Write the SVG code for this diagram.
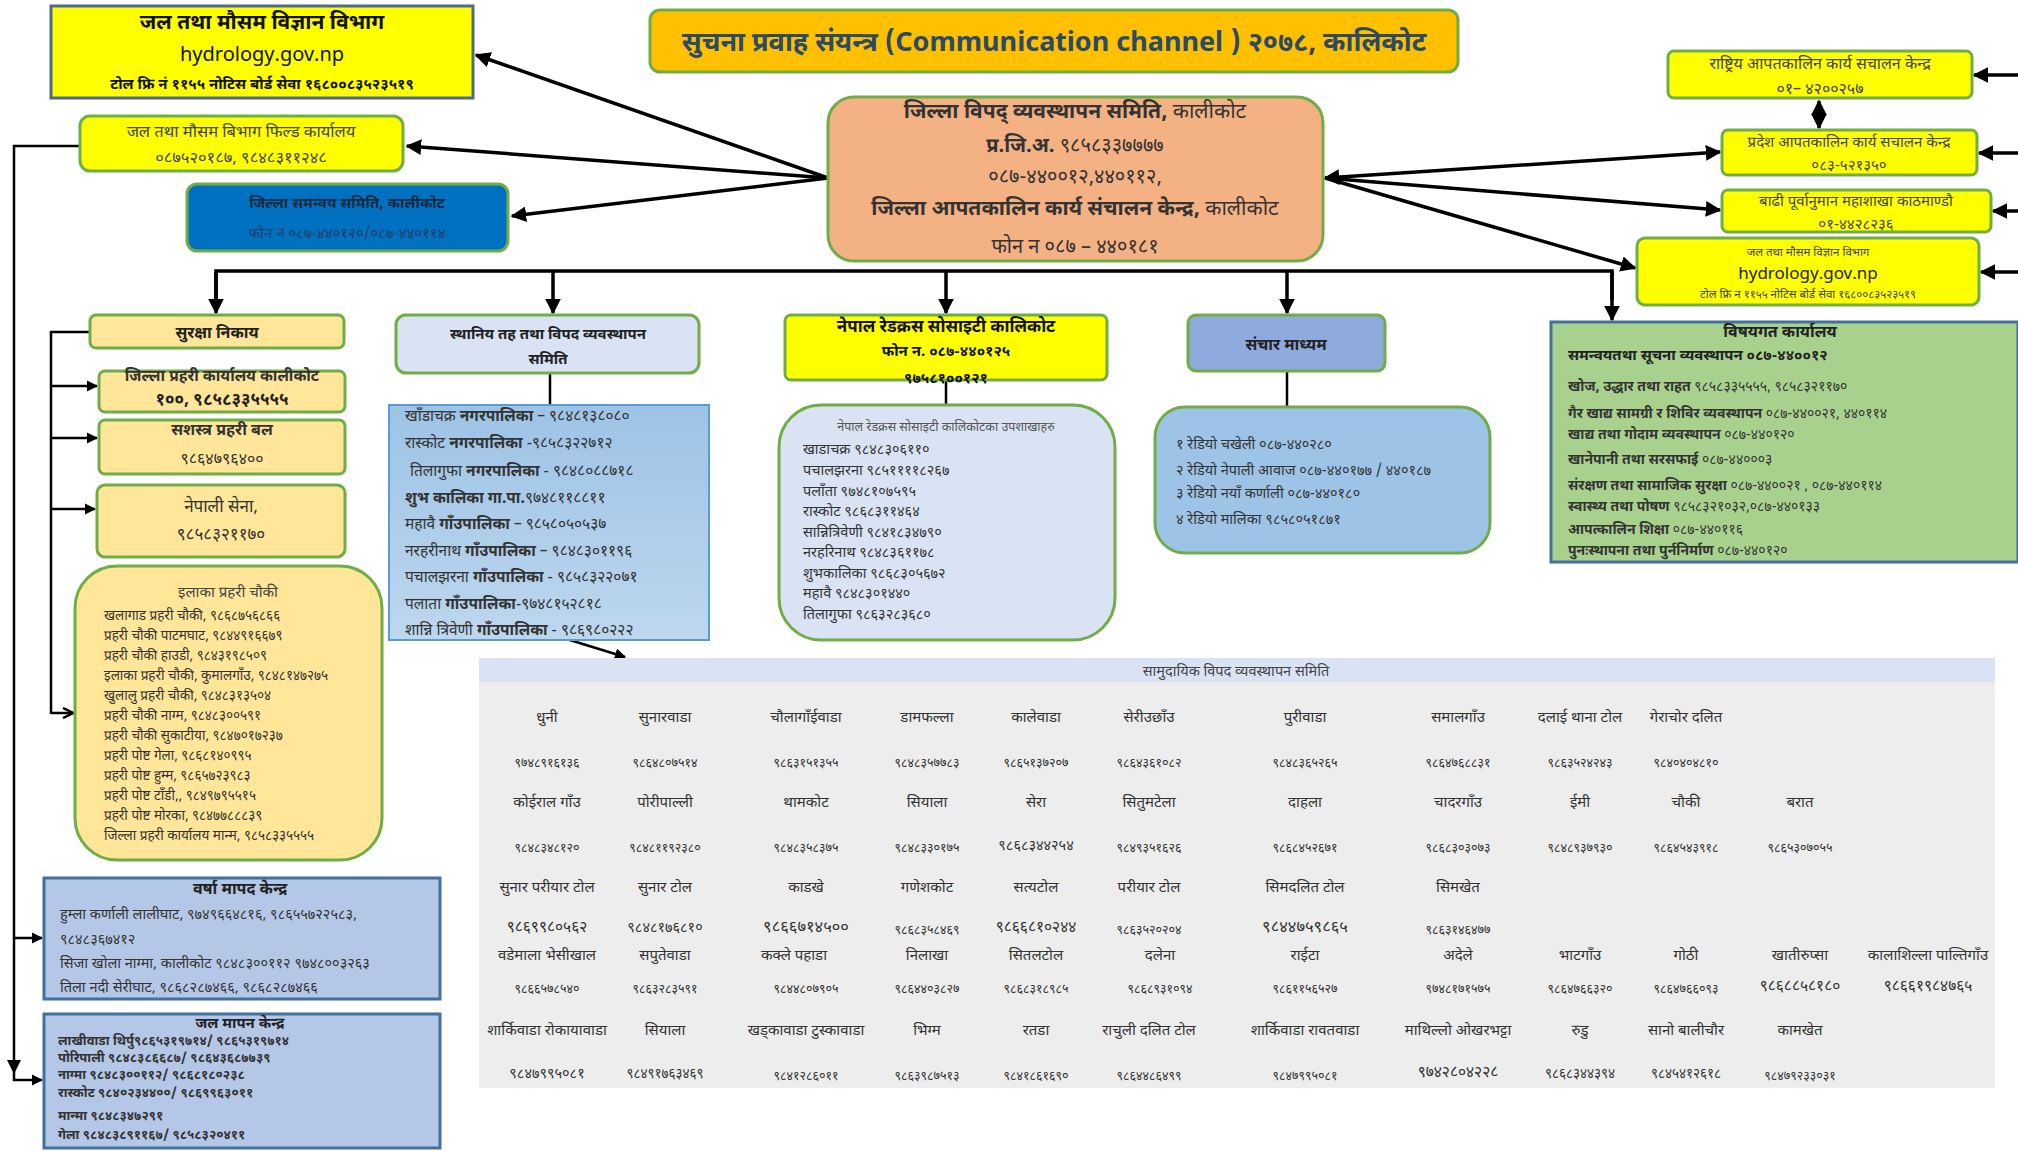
<svg xmlns="http://www.w3.org/2000/svg" width="2018" height="1151" viewBox="0 0 2018 1151">
<defs>
<marker id="ah" viewBox="0 0 10 10" refX="9" refY="5" markerWidth="4.5" markerHeight="4.5" orient="auto-start-reverse"><path d="M0,0 L10,5 L0,10 Z" fill="#000"/></marker>
<marker id="ao" viewBox="0 0 10 10" refX="9" refY="5" markerWidth="5" markerHeight="5" orient="auto"><path d="M1,1 L9,5 L1,9" fill="none" stroke="#000" stroke-width="2"/></marker>
<style>
text{font-family:"Noto Sans Devanagari","Noto Sans","Liberation Sans",sans-serif;fill:#333}
.c{text-anchor:middle}
.b{font-weight:bold}
.ln{fill:none;stroke:#000;stroke-width:3.5}
.ln2{fill:none;stroke:#000;stroke-width:2.5}
.yg{fill:#FFFF00;stroke:#70AD47;stroke-width:3}
.tan{fill:#FFE699;stroke:#70AD47;stroke-width:3}
.t12{font-size:13.5px}
.t13{font-size:14px}
.t14{font-size:14.5px}
.t15{font-size:15.5px}
.t16{font-size:16px}
.num{font-size:12.5px;fill:#555}
.nm{font-size:15px;fill:#444}
</style>
<linearGradient id="gl" x1="0" y1="0" x2="0" y2="1"><stop offset="0" stop-color="#9DC3E6"/><stop offset="1" stop-color="#BDD7EE"/></linearGradient>
</defs>

<g id="connectors">
<line class="ln" x1="828" y1="178" x2="476" y2="55" marker-end="url(#ah)"/>
<line class="ln" x1="828" y1="178" x2="407" y2="146" marker-end="url(#ah)"/>
<line class="ln" x1="828" y1="178" x2="512" y2="216" marker-end="url(#ah)"/>
<line class="ln" x1="1325" y1="178" x2="1720" y2="152" marker-start="url(#ah)" marker-end="url(#ah)"/>
<line class="ln" x1="1325" y1="178" x2="1720" y2="210" marker-end="url(#ah)"/>
<line class="ln" x1="1325" y1="178" x2="1635" y2="268" marker-end="url(#ah)"/>
<line class="ln" x1="2018" y1="75" x2="1974" y2="75" marker-end="url(#ah)"/>
<line class="ln" x1="2018" y1="153" x2="1979" y2="153" marker-end="url(#ah)"/>
<line class="ln" x1="2018" y1="211" x2="1993" y2="211" marker-end="url(#ah)"/>
<line class="ln" x1="2018" y1="272" x2="1981" y2="272" marker-end="url(#ah)"/>
<line class="ln" x1="1819" y1="101" x2="1819" y2="128" marker-start="url(#ah)" marker-end="url(#ah)"/>
<polyline class="ln" points="216,300 216,271 1612,271 1612,300"/>
<line class="ln" x1="216" y1="272" x2="216" y2="313" marker-end="url(#ah)"/>
<line class="ln" x1="553" y1="272" x2="553" y2="313" marker-end="url(#ah)"/>
<line class="ln" x1="946" y1="272" x2="946" y2="313" marker-end="url(#ah)"/>
<line class="ln" x1="1287" y1="272" x2="1287" y2="313" marker-end="url(#ah)"/>
<line class="ln" x1="1612" y1="272" x2="1612" y2="320" marker-end="url(#ah)"/>
<polyline class="ln2" points="90,332 51,332 51,714"/>
<line class="ln2" x1="51" y1="386" x2="97" y2="386" marker-end="url(#ah)"/>
<line class="ln2" x1="51" y1="438" x2="97" y2="438" marker-end="url(#ah)"/>
<line class="ln2" x1="51" y1="509" x2="95" y2="509" marker-end="url(#ah)"/>
<line class="ln2" x1="51" y1="713" x2="73" y2="713" marker-end="url(#ao)"/>
<polyline class="ln2" points="80,146 14,146 14,1080 42,1080" marker-end="url(#ah)"/>
<line class="ln2" x1="14" y1="938" x2="42" y2="938" marker-end="url(#ah)"/>
<path d="M7,1060 L21,1060 L14,1074 Z" fill="#000"/>
<line class="ln2" x1="550" y1="373" x2="550" y2="405"/>
<line class="ln2" x1="946" y1="380" x2="946" y2="405"/>
<line class="ln2" x1="1287" y1="371" x2="1287" y2="407"/>
<line class="ln2" x1="547" y1="633" x2="625" y2="657" marker-end="url(#ah)"/>
</g>

<g id="title">
<rect x="650" y="10" width="808" height="62" rx="10" fill="#FFC000" stroke="#70AD47" stroke-width="3"/>
<text x="1054" y="51" class="c b" style="font-size:27px;fill:#2A4A66">सुचना प्रवाह संयन्त्र (Communication channel ) २०७८, कालिकोट</text>
</g>

<g id="center">
<rect x="828" y="97" width="495" height="164" rx="26" fill="#F4B183" stroke="#70AD47" stroke-width="3"/>
<text x="1075" y="118" class="c" style="font-size:21px"><tspan class="b">जिल्ला विपद् व्यवस्थापन समिति,</tspan> कालीकोट</text>
<text x="1075" y="152" class="c" style="font-size:20px"><tspan class="b">प्र.जि.अ.</tspan> ९८५८३३७७७७</text>
<text x="1075" y="183" class="c" style="font-size:20px">०८७-४४००१२,४४०११२,</text>
<text x="1075" y="215" class="c" style="font-size:21px"><tspan class="b">जिल्ला आपतकालिन कार्य संचालन केन्द्र,</tspan> कालीकोट</text>
<text x="1075" y="253" class="c" style="font-size:20px">फोन न ०८७ – ४४०१८१</text>
</g>

<g id="dhm-left">
<rect x="51" y="6" width="422" height="92" fill="#FFFF00" stroke="#4F6B8A" stroke-width="3"/>
<text x="262" y="29" class="c b" style="font-size:21px;fill:#111">जल तथा मौसम विज्ञान विभाग</text>
<text x="262" y="61" class="c" style="font-size:20px;fill:#111">hydrology.gov.np</text>
<text x="262" y="89" class="c b" style="font-size:15px;fill:#111">टोल फ्रि नं ११५५ नोटिस बोर्ड सेवा १६८००८३५२३५१९</text>
</g>

<g id="field-office">
<rect x="80" y="116" width="323" height="55" rx="10" class="yg"/>
<text x="241" y="137" class="c" style="font-size:16.5px;fill:#444">जल तथा मौसम बिभाग फिल्ड कार्यालय</text>
<text x="241" y="163" class="c" style="font-size:16.5px;fill:#444">०८७५२०१८७, ९८४८३११२४८</text>
</g>

<g id="dcc">
<rect x="187" y="184" width="321" height="67" rx="10" fill="#0070C0" stroke="#70AD47" stroke-width="3"/>
<text x="347" y="208" class="c b" style="font-size:15px;fill:#1a2a40">जिल्ला समन्वय समिति, कालीकोट</text>
<text x="347" y="238" class="c" style="font-size:15px;fill:#1F3D63">फोन न  ०८७-४४०१२०/०८७-४४०११४</text>
</g>

<g id="neoc">
<rect x="1668" y="51" width="304" height="47" rx="6" class="yg"/>
<text x="1820" y="69" class="c" style="font-size:16px;fill:#444">राष्ट्रिय आपतकालिन कार्य सचालन केन्द्र</text>
<text x="1820" y="94" class="c" style="font-size:16px;fill:#444">०१– ४२००२५७</text>
</g>
<g id="peoc">
<rect x="1722" y="130" width="255" height="45" rx="6" class="yg"/>
<text x="1849" y="147" class="c" style="font-size:15px;fill:#444">प्रदेश आपतकालिन कार्य सचालन केन्द्र</text>
<text x="1849" y="170" class="c" style="font-size:15px;fill:#444">०८३-५२१३५०</text>
</g>
<g id="flood">
<rect x="1722" y="190" width="269" height="42" rx="6" class="yg"/>
<text x="1856" y="206" class="c" style="font-size:15px;fill:#444">बाढी पूर्वानुमान महाशाखा काठमाण्डौ</text>
<text x="1856" y="229" class="c" style="font-size:15px;fill:#444">०१-४४२८२३६</text>
</g>
<g id="dhm-right">
<rect x="1637" y="238" width="342" height="67" rx="8" class="yg"/>
<text x="1808" y="256" class="c" style="font-size:11.5px;fill:#444">जल तथा मौसम विज्ञान विभाग</text>
<text x="1808" y="279" class="c" style="font-size:17px;fill:#222">hydrology.gov.np</text>
<text x="1808" y="298" class="c" style="font-size:11.5px;fill:#444">टोल फ्रि न ११५५ नोटिस बोर्ड सेवा १६८००८३५२३५१९</text>
</g>

<g id="security">
<rect x="90" y="315" width="254" height="33" rx="6" class="tan"/>
<text x="217" y="338" class="c b t16" style="fill:#222">सुरक्षा निकाय</text>
</g>
<g id="police">
<rect x="99" y="371" width="246" height="41" rx="6" class="tan"/>
<text x="222" y="381" class="c b" style="font-size:15.5px;fill:#333">जिल्ला प्रहरी कार्यालय कालीकोट</text>
<text x="222" y="405" class="c b" style="font-size:17px;fill:#222">१००, ९८५८३३५५५५</text>
</g>
<g id="apf">
<rect x="99" y="420" width="246" height="54" rx="6" class="tan"/>
<text x="222" y="435" class="c b" style="font-size:16px;fill:#333">सशस्त्र प्रहरी बल</text>
<text x="222" y="464" class="c" style="font-size:16px;fill:#333">९८६४७९६४००</text>
</g>
<g id="army">
<rect x="97" y="485" width="248" height="72" rx="8" class="tan"/>
<text x="221" y="512" class="c" style="font-size:17px;fill:#333">नेपाली सेना,</text>
<text x="221" y="540" class="c" style="font-size:17px;fill:#333">९८५८३२११७०</text>
</g>
<g id="area-police">
<rect x="75" y="566" width="307" height="294" rx="42" class="tan"/>
<text x="228" y="597" class="c" style="font-size:15px;fill:#444">इलाका प्रहरी चौकी</text>
<g class="t12" style="fill:#555">
<text x="104" y="620">खलागाड प्रहरी चौकी,  ९८६८७५६८६६</text>
<text x="104" y="640">प्रहरी चौकी पाटमघाट, ९८४४९१६६७९</text>
<text x="104" y="660">प्रहरी चौकी हाउडी,  ९८४३१९८५०९</text>
<text x="104" y="680">इलाका प्रहरी चौकी, कुमालगाँउ, ९८४८१४७२७५</text>
<text x="104" y="700">खुलालु प्रहरी चौकी, ९८४८३१३५०४</text>
<text x="104" y="720">प्रहरी चौकी नाग्म, ९८४८३००५९१</text>
<text x="104" y="740">प्रहरी चौकी सुकाटीया, ९८४७०१७२३७</text>
<text x="104" y="760">प्रहरी पोष्ट गेला,  ९८६८१४०९९५</text>
<text x="104" y="780">प्रहरी पोष्ट हुम्म, ९८६५७२३९८३</text>
<text x="104" y="800">प्रहरी पोष्ट टाँडी,, ९८४९७९५५१५</text>
<text x="104" y="820">प्रहरी पोष्ट मोरका, ९८४७७८८८३९</text>
<text x="104" y="840">जिल्ला प्रहरी कार्यालय मान्म, ९८५८३३५५५५</text>
</g>
</g>

<g id="rain">
<rect x="44" y="878" width="396" height="121" fill="#B4C7E7" stroke="#41719C" stroke-width="3"/>
<text x="240" y="894" class="c b" style="font-size:16px;fill:#222">वर्षा मापद केन्द्र</text>
<g class="t14" style="fill:#444">
<text x="60" y="919">हुम्ला कर्णाली लालीघाट, ९७४९६६४८१६, ९८६५५७२२५८३,</text>
<text x="60" y="944">९८४८३६७४१२</text>
<text x="60" y="968">सिजा खोला नाग्मा, कालीकोट ९८४८३००११२ ९७४८००३२६३</text>
<text x="60" y="992">तिला नदी सेरीघाट, ९८६८२८७४६६, ९८६८२८७४६६</text>
</g>
</g>
<g id="water">
<rect x="44" y="1014" width="396" height="134" fill="#B4C7E7" stroke="#41719C" stroke-width="3"/>
<text x="240" y="1028" class="c b" style="font-size:15px;fill:#222">जल मापन केन्द्र</text>
<g class="b" style="font-size:13px;fill:#333">
<text x="58" y="1045">लाखीवाडा थिर्पु९८६५३१९७१४/ ९८६५३१९७१४</text>
<text x="58" y="1062">पोरिपाली ९८४८३८६६८७/ ९८६४३६८७७३९</text>
<text x="58" y="1079">नाग्मा ९८४८३००११२/ ९८६८१८०२३८</text>
<text x="58" y="1097">रास्कोट ९८४०२३४४००/ ९८६९९६३०११</text>
<text x="58" y="1120">मान्मा ९८४८३४७२९१</text>
<text x="58" y="1139">गेला ९८४८३८९११६७/ ९८५८३२०४११</text>
</g>
</g>

<g id="local">
<rect x="396" y="315" width="303" height="58" rx="10" fill="#DAE3F3" stroke="#70AD47" stroke-width="3"/>
<text x="548" y="339" class="c b" style="font-size:15px;fill:#222">स्थानिय तह तथा विपद व्यवस्थापन</text>
<text x="548" y="364" class="c b" style="font-size:15px;fill:#222">समिति</text>
</g>
<g id="local-list">
<rect x="389" y="405" width="320" height="235" fill="url(#gl)" stroke="#5B9BD5" stroke-width="2"/>
<g class="t15" style="fill:#444">
<text x="405" y="421">खाँडाचक्र <tspan class="b">नगरपालिका</tspan> – ९८४८१३८०८०</text>
<text x="405" y="448">रास्कोट <tspan class="b">नगरपालिका</tspan> -९८५८३२२७१२</text>
<text x="410" y="476">तिलागुफा <tspan class="b">नगरपालिका</tspan> - ९८४८०८८७१८</text>
<text x="405" y="503"><tspan class="b">शुभ कालिका गा.पा.</tspan>९७४८११८८११</text>
<text x="405" y="529">महावै <tspan class="b">गाँउपालिका</tspan> – ९८५८०५०५३७</text>
<text x="405" y="556">नरहरीनाथ <tspan class="b">गाँउपालिका</tspan> – ९८४८३०११९६</text>
<text x="405" y="582">पचालझरना <tspan class="b">गाँउपालिका</tspan> - ९८५८३२२०७१</text>
<text x="405" y="609">पलाता <tspan class="b">गाँउपालिका</tspan>-९७४८१५२८१८</text>
<text x="405" y="635">शान्नि त्रिवेणी <tspan class="b">गाँउपालिका</tspan> - ९८६९८०२२२</text>
</g>
</g>

<g id="redcross">
<rect x="785" y="315" width="322" height="65" rx="6" class="yg"/>
<text x="946" y="332" class="c b" style="font-size:17px;fill:#111">नेपाल रेडक्रस सोसाइटी कालिकोट</text>
<text x="946" y="356" class="c b" style="font-size:15px;fill:#111">फोन न. ०८७-४४०१२५</text>
<text x="946" y="383" class="c b" style="font-size:15px;fill:#111">९७५८१००१२१</text>
</g>
<g id="redcross-branches">
<rect x="779" y="405" width="336" height="235" rx="42" fill="#DAE3F3" stroke="#70AD47" stroke-width="3"/>
<text x="946" y="431" class="c" style="font-size:12.5px;fill:#555">नेपाल रेडक्रस सोसाइटी कालिकोटका उपशाखाहरु</text>
<g style="font-size:14.5px;fill:#555">
<text x="803" y="454">खाडाचक्र ९८४८३०६११०</text>
<text x="803" y="475">पचालझरना ९८५११११८२६७</text>
<text x="803" y="496">पलाँता ९७४८१०७५९५</text>
<text x="803" y="516">रास्कोट ९८६८३११४६४</text>
<text x="803" y="537">सान्नित्रिवेणी ९८४१८३४७९०</text>
<text x="803" y="557">नरहरिनाथ ९८४८३६११७८</text>
<text x="803" y="578">शुभकालिका ९८६८३०५६७२</text>
<text x="803" y="598">महावै ९८४८३०१४४०</text>
<text x="803" y="619">तिलागुफा ९८६३२८३६८०</text>
</g>
</g>

<g id="media">
<rect x="1188" y="315" width="197" height="56" rx="8" fill="#8FAADC" stroke="#70AD47" stroke-width="3"/>
<text x="1286" y="350" class="c b" style="font-size:16px;fill:#222">संचार माध्यम</text>
</g>
<g id="radio">
<rect x="1155" y="407" width="335" height="146" rx="30" fill="#9DC3E6" stroke="#70AD47" stroke-width="3"/>
<g style="font-size:14.5px;fill:#444">
<text x="1176" y="449">१ रेडियो चखेली ०८७-४४०२८०</text>
<text x="1176" y="475">२ रेडियो नेपाली आवाज ०८७-४४०१७७ / ४४०१८७</text>
<text x="1176" y="498">३ रेडियो नयाँ कर्णाली ०८७-४४०१८०</text>
<text x="1176" y="524">४ रेडियो मालिका   ९८५८०५१८७१</text>
</g>
</g>

<g id="thematic">
<rect x="1551" y="322" width="467" height="240" fill="#A9D18E" stroke="#41719C" stroke-width="3"/>
<text x="1780" y="337" class="c b" style="font-size:16px;fill:#222">विषयगत कार्यालय</text>
<text x="1568" y="360" class="b" style="font-size:15px;fill:#222">समन्वयतथा सूचना व्यवस्थापन ०८७-४४००१२</text>
<g style="font-size:14px;fill:#333">
<text x="1568" y="391"><tspan class="b">खोज, उद्धार तथा राहत</tspan> ९८५८३३५५५५, ९८५८३२११७०</text>
<text x="1568" y="418"><tspan class="b">गैर खाद्य सामग्री र शिविर व्यवस्थापन</tspan> ०८७-४४००२१, ४४०११४</text>
<text x="1568" y="439"><tspan class="b">खाद्य तथा गोदाम व्यवस्थापन</tspan> ०८७-४४०१२०</text>
<text x="1568" y="464"><tspan class="b">खानेपानी तथा सरसफाई</tspan> ०८७-४४०००३</text>
<text x="1568" y="490"><tspan class="b">संरक्षण तथा सामाजिक सुरक्षा</tspan> ०८७-४४००२१ , ०८७-४४०११४</text>
<text x="1568" y="511"><tspan class="b">स्वास्थ्य तथा पोषण</tspan> ९८५८३२१०३२,०८७-४४०१३३</text>
<text x="1568" y="534"><tspan class="b">आपत्कालिन शिक्षा</tspan> ०८७-४४०११६</text>
<text x="1568" y="555"><tspan class="b">पुनःस्थापना तथा पुर्ननिर्माण</tspan> ०८७-४४०१२०</text>
</g>
</g>

<g id="community">
<rect x="479" y="658" width="1516" height="430" fill="#EDEDED"/>
<rect x="479" y="658" width="1516" height="24" fill="#DAE3F3"/>
<text x="1236" y="676" class="c" style="font-size:14.5px;fill:#444">सामुदायिक विपद व्यवस्थापन समिति</text>
<g class="nm c">
<text x="547" y="722">धुनी</text><text x="665" y="722">सुनारवाडा</text><text x="806" y="722">चौलागाँईवाडा</text><text x="927" y="722">डामफल्ला</text><text x="1036" y="722">कालेवाडा</text><text x="1149" y="722">सेरीउछाँउ</text><text x="1305" y="722">पुरीवाडा</text><text x="1458" y="722">समालगाँउ</text><text x="1580" y="722">दलाई थाना टोल</text><text x="1686" y="722">गेराचोर दलित</text>
<text x="547" y="807">कोईराल गाँउ</text><text x="665" y="807">पोरीपाल्ली</text><text x="806" y="807">थामकोट</text><text x="927" y="807">सियाला</text><text x="1036" y="807">सेरा</text><text x="1149" y="807">सितुमटेला</text><text x="1305" y="807">दाहला</text><text x="1458" y="807">चादरगाँउ</text><text x="1580" y="807">ईमी</text><text x="1686" y="807">चौकी</text><text x="1800" y="807">बरात</text>
<text x="547" y="892">सुनार परीयार टोल</text><text x="665" y="892">सुनार टोल</text><text x="806" y="892">काडखे</text><text x="927" y="892">गणेशकोट</text><text x="1036" y="892">सत्यटोल</text><text x="1149" y="892">परीयार टोल</text><text x="1305" y="892">सिमदलित टोल</text><text x="1458" y="892">सिमखेत</text>
<text x="547" y="960">वडेमाला भेसीखाल</text><text x="665" y="960">सपुतेवाडा</text><text x="794" y="960">कक्ले पहाडा</text><text x="927" y="960">निलाखा</text><text x="1036" y="960">सितलटोल</text><text x="1160" y="960">दलेना</text><text x="1305" y="960">राईटा</text><text x="1458" y="960">अदेले</text><text x="1580" y="960">भाटगाँउ</text><text x="1686" y="960">गोठी</text><text x="1800" y="960">खातीरुप्सा</text><text x="1928" y="960">कालाशिल्ला पाल्तिगाँउ</text>
<text x="547" y="1035">शार्किवाडा रोकायावाडा</text><text x="665" y="1035">सियाला</text><text x="806" y="1035">खड्कावाडा टुस्कावाडा</text><text x="927" y="1035">भिग्म</text><text x="1036" y="1035">रतडा</text><text x="1149" y="1035">राचुली दलित टोल</text><text x="1305" y="1035">शार्किवाडा रावतवाडा</text><text x="1458" y="1035">माथिल्लो ओखरभट्टा</text><text x="1580" y="1035">रुडु</text><text x="1686" y="1035">सानो बालीचौर</text><text x="1800" y="1035">कामखेत</text>
</g>
<g class="num c">
<text x="547" y="767">९७४८९१६१३६</text><text x="665" y="767">९८६४८०७५१४</text><text x="806" y="767">९८६३१५१३५५</text><text x="927" y="767">९८४८३५७७८३</text><text x="1036" y="767">९८६५१३७२०७</text><text x="1149" y="767">९८६४३६१०८२</text><text x="1305" y="767">९८४८३६५२६५</text><text x="1458" y="767">९८६४७६८८३१</text><text x="1580" y="767">९८६३५२४२४३</text><text x="1686" y="767">९८४०४०४८१०</text>
<text x="547" y="852">९८४८३४८१२०</text><text x="665" y="852">९८४८११९२३८०</text><text x="806" y="852">९८४८३५८३७५</text><text x="927" y="852">९८४८३३०१७५</text><text x="1036" y="850" style="font-size:14.5px">९८६८३४४२५४</text><text x="1149" y="852">९८४९३५१६२६</text><text x="1305" y="852">९८६८४५२६७१</text><text x="1458" y="852">९८६८३०३०७३</text><text x="1580" y="852">९८४८९३७९३०</text><text x="1686" y="852">९८६४५४३९१८</text><text x="1800" y="852">९८६५३०७०५५</text>
<text x="547" y="932" style="font-size:15.5px">९८६९९८०५६२</text><text x="665" y="932" style="font-size:14.5px">९८४८१७६८१०</text><text x="806" y="932" style="font-size:16.5px">९८६६७१४५००</text><text x="927" y="934">९८६८३५८४६९</text><text x="1036" y="932" style="font-size:15.5px">९८६६८१०२४४</text><text x="1149" y="934">९८६३५२०२०४</text><text x="1305" y="932" style="font-size:16.5px">९८४४७५९८६५</text><text x="1458" y="934">९८६३१४६४७७</text>
<text x="547" y="993">९८६६५७८५४०</text><text x="665" y="993">९८६३२८३५९१</text><text x="806" y="993">९८४४८०७९०५</text><text x="927" y="993">९८६४४०३८२७</text><text x="1036" y="993">९८६८३१८९८५</text><text x="1160" y="993">९८६८९३१०९४</text><text x="1305" y="993">९८६११५६५२७</text><text x="1458" y="993">९७४८१७१५७५</text><text x="1580" y="993">९८६४७६६३२०</text><text x="1686" y="993">९८६४७६६०९३</text><text x="1800" y="991" style="font-size:15.5px">९८६८८५८१८०</text><text x="1928" y="991" style="font-size:15.5px">९८६६१९८४७६५</text>
<text x="547" y="1078" style="font-size:14.5px">९८४७९९५०८१</text><text x="665" y="1078" style="font-size:13.5px">९८४९१७६३४६९</text><text x="806" y="1080">९८४१२८६०११</text><text x="927" y="1080">९८६३९८७५१३</text><text x="1036" y="1080">९८४१८६१६९०</text><text x="1149" y="1080">९८६४४८६४९९</text><text x="1305" y="1080">९८४७९९५०८१</text><text x="1458" y="1077" style="font-size:15.5px">९७४२८०४२२८</text><text x="1580" y="1078" style="font-size:13.5px">९८६८३४४३९४</text><text x="1686" y="1078" style="font-size:13.5px">९८४५४१२६१८</text><text x="1800" y="1080">९८४७९२३३०३१</text>
</g>
</g>
</svg>
